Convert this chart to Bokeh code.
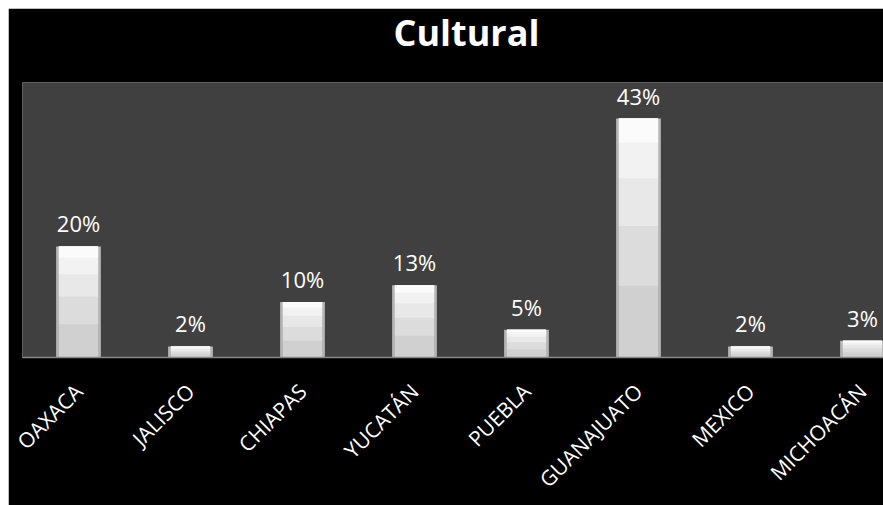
from math import pi
from bokeh.plotting import figure
from bokeh.models import Range1d, FixedTicker
from bokeh.core.properties import value
from bokeh.embed import file_html
from bokeh.resources import INLINE

# ---- data ----
categories = ["OAXACA", "JALISCO", "CHIAPAS", "YUCATÁN", "PUEBLA",
              "GUANAJUATO", "MEXICO", "MICHOACÁN"]
values = [20, 2, 10, 13, 5, 43, 2, 3]
value_labels = ["20%", "2%", "10%", "13%", "5%", "43%", "2%", "3%"]
title_text = "Cultural"

xs = [i + 0.5 for i in range(len(categories))]

FONT = "Open Sans"
W, H = 875, 497
LEFT = 14
BAND = 112.0
p = figure(width=W, height=H, output_backend="svg", toolbar_location=None,
           x_range=Range1d(0, (W - LEFT) / BAND), y_range=Range1d(0, 49.5),
           y_axis_location=None, min_border_left=LEFT, min_border_right=0,
           min_border_top=74, min_border_bottom=148,
           background_fill_color="#404040", border_fill_color="black")
p.margin = (8, 0, 0, 8)
p.outline_line_color = None
p.xgrid.visible = False
p.ygrid.visible = False

# a trailing empty line lifts the title towards the top edge of the page
p.title.text = title_text + "\n"
p.title.text_color = "white"
p.title.text_font = FONT
p.title.text_font_style = "bold"
p.title.text_font_size = "36px"
p.title.text_line_height = 1.0
p.title.align = "left"
p.title.offset = 371
p.title.vertical_align = "bottom"
p.title.standoff = -46

# bars: layered to imitate a bevelled, top-lit gradient
p.vbar(x=xs, top=values, width=0.40, bottom=0, fill_color="#b4b4b4", line_color=None)
p.vbar(x=xs, top=values, width=0.35, bottom=0, fill_color="#d0d0d0", line_color=None)
for frac, col in [(0.3, "#dcdcdc"), (0.55, "#e8e8e8"), (0.75, "#f2f2f2"), (0.9, "#fbfbfb")]:
    p.vbar(x=xs, top=values, bottom=[v * frac for v in values], width=0.35,
           fill_color=col, line_color=None)

p.text(x=xs, y=values, text=value_labels, text_align="center", text_baseline="bottom",
       y_offset=-8, text_color="white", text_font=value(FONT), text_font_size="22px")

ax = p.xaxis[0]
ax.ticker = FixedTicker(ticks=xs)
ax.major_label_overrides = {x: c for x, c in zip(xs, categories)}
ax.major_label_orientation = pi / 4
ax.major_label_text_color = "white"
ax.major_label_text_font = FONT
ax.major_label_text_font_size = "21px"
ax.major_label_standoff = 24
ax.major_tick_line_color = None
ax.minor_tick_line_color = None
ax.axis_line_color = "#888888"
ax.axis_line_width = 1.5

open("out.html", "w").write(file_html(p, INLINE))
